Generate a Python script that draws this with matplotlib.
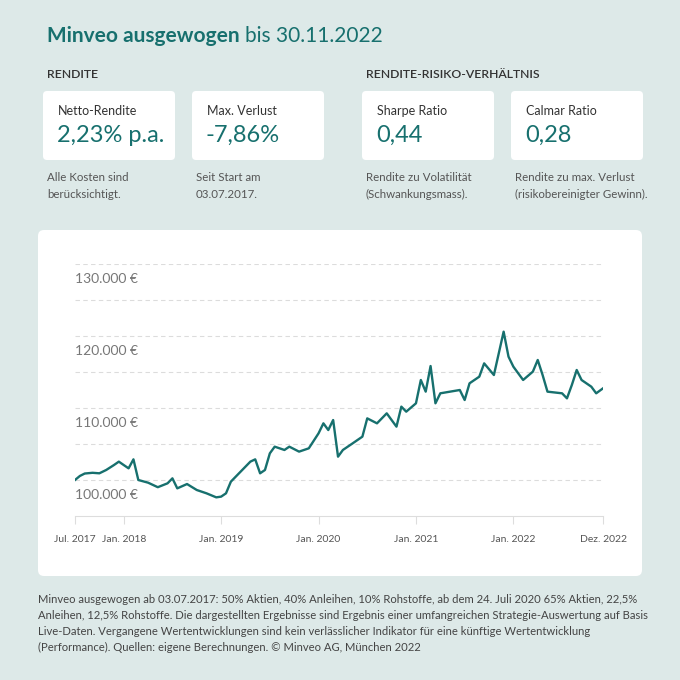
import matplotlib
matplotlib.use("Agg")
import matplotlib.pyplot as plt
from matplotlib.patches import FancyBboxPatch
from matplotlib.ticker import FixedLocator

plt.rcParams['font.family'] = ['Lato', 'DejaVu Sans']

TEAL = "#17706e"
BG = "#dde9e8"

# time (decimal year) and portfolio value (EUR)
years = [2017.50, 2017.55, 2017.60, 2017.68, 2017.75, 2017.82, 2017.90, 2017.95, 2018.00, 2018.05,
         2018.10, 2018.15, 2018.25, 2018.35, 2018.45, 2018.50, 2018.55, 2018.65, 2018.75, 2018.85,
         2018.95, 2019.00, 2019.05, 2019.10, 2019.20, 2019.30, 2019.35, 2019.40, 2019.45, 2019.50,
         2019.55, 2019.65, 2019.70, 2019.80, 2019.90, 2020.00, 2020.05, 2020.10, 2020.15, 2020.20,
         2020.25, 2020.35, 2020.45, 2020.50, 2020.60, 2020.70, 2020.75, 2020.80, 2020.85, 2020.90,
         2021.00, 2021.05, 2021.10, 2021.15, 2021.20, 2021.25, 2021.35, 2021.45, 2021.50, 2021.55,
         2021.65, 2021.70, 2021.80, 2021.85, 2021.90, 2021.95, 2022.00, 2022.10, 2022.20, 2022.25,
         2022.30, 2022.35, 2022.50, 2022.55, 2022.60, 2022.65, 2022.70, 2022.80, 2022.85, 2022.92]
values = [100000, 100560, 100900, 101000, 100930, 101390, 102080, 102550, 102080, 101620,
          102870, 100000, 99630, 99000, 99540, 100230, 98840, 99440, 98610, 98150,
          97590, 97690, 98150, 99770, 101160, 102550, 102870, 100930, 101390, 103700,
          104630, 104170, 104630, 103940, 104400, 106480, 107870, 106940, 108330, 103240,
          104170, 105090, 106020, 108560, 107870, 109260, 108330, 107410, 110190, 109490,
          110650, 113890, 112270, 115830, 110650, 112040, 112270, 112500, 111110, 113430,
          114350, 116200, 114580, 117590, 120600, 117130, 115740, 113890, 115050, 116670,
          114580, 112270, 112040, 111340, 113190, 115280, 113890, 112960, 112040, 112730]

y_ticks = [100000, 110000, 120000, 130000]
y_tick_labels = ["100.000 €", "110.000 €", "120.000 €", "130.000 €"]
x_ticks = [2017.5, 2018.0, 2019.0, 2020.0, 2021.0, 2022.0, 2022.92]
x_tick_labels = ["Jul. 2017", "Jan. 2018", "Jan. 2019", "Jan. 2020", "Jan. 2021", "Jan. 2022", "Dez. 2022"]

cards = [("Netto-Rendite", "2,23% p.a.", "Alle Kosten sind\nberücksichtigt."),
         ("Max. Verlust", "-7,86%", "Seit Start am\n03.07.2017."),
         ("Sharpe Ratio", "0,44", "Rendite zu Volatilität\n(Schwankungsmass)."),
         ("Calmar Ratio", "0,28", "Rendite zu max. Verlust\n(risikobereinigter Gewinn).")]

W = H = 680
fig = plt.figure(figsize=(6.8, 6.8), dpi=100)
fig.patch.set_facecolor(BG)

def fx(x): return x / W
def fy(y): return 1 - y / H

def box(x0, y0, x1, y1, r=4):
    p = FancyBboxPatch((fx(x0), fy(y1)), fx(x1 - x0), (y1 - y0) / H,
                       boxstyle=f"round,pad=0,rounding_size={r/W}",
                       transform=fig.transFigure, facecolor="white", edgecolor="none", zorder=0)
    fig.patches.append(p)

fig.text(fx(47), fy(36), "Minveo ausgewogen", fontsize=15, fontweight="bold", color=TEAL, va="center")
fig.text(fx(245), fy(36), "bis 30.11.2022", fontsize=15, color=TEAL, va="center")
fig.text(fx(47), fy(75), "RENDITE", fontsize=8.8, color="#333333", va="center", fontweight="semibold")
fig.text(fx(366), fy(75), "RENDITE-RISIKO-VERHÄLTNIS", fontsize=8.8, color="#333333", va="center", fontweight="semibold")

card_x = [43, 192, 362, 511]
for (title, val, note), x0 in zip(cards, card_x):
    box(x0, 91, x0 + 132, 160)
    fig.text(fx(x0 + 15), fy(111), title, fontsize=9, color="#333333", va="center")
    fig.text(fx(x0 + 14), fy(135), val, fontsize=17, color=TEAL, va="center")
    fig.text(fx(x0 + 4), fy(186), note, fontsize=8.3, color="#555555", va="center", linespacing=1.7)

box(38, 230, 642, 576, r=6)

ax = fig.add_axes([fx(75), fy(516), fx(603 - 75), (516 - 264) / H])
ax.set_zorder(2)
ax.set_facecolor("none")
ax.set_xlim(2017.5, 2022.92)
ax.set_ylim(95000, 130000)
ax.plot(years, values, color=TEAL, lw=1.7)
ax.yaxis.set_major_locator(FixedLocator(list(range(100000, 130001, 5000))))
ax.set_yticklabels([])
ax.tick_params(axis="y", length=0)
ax.grid(axis="y", color="#dcdcdc", linestyle=(0, (4, 3)), lw=0.8)
for v, lab in zip(y_ticks, y_tick_labels):
    ax.text(2017.5, v - 2080, lab, fontsize=10, color="#777777", va="center", ha="left")
ax.set_xticks(x_ticks)
ax.set_xticklabels(x_tick_labels, fontsize=7.5, color="#555555")
ax.tick_params(axis="x", length=6, color="#dddddd", pad=8)
for s in ["top", "right", "left"]:
    ax.spines[s].set_visible(False)
ax.spines["bottom"].set_color("#dddddd")

foot = ("Minveo ausgewogen ab 03.07.2017: 50% Aktien, 40% Anleihen, 10% Rohstoffe, ab dem 24. Juli 2020 65% Aktien, 22,5%\n"
        "Anleihen, 12,5% Rohstoffe. Die dargestellten Ergebnisse sind Ergebnis einer umfangreichen Strategie-Auswertung auf Basis\n"
        "Live-Daten. Vergangene Wertentwicklungen sind kein verlässlicher Indikator für eine künftige Wertentwicklung\n"
        "(Performance). Quellen: eigene Berechnungen. © Minveo AG, München 2022")
fig.text(fx(38), fy(594), foot, fontsize=8.1, color="#444444", va="top", linespacing=1.55)

fig.savefig("out.png", dpi=100, facecolor=BG)
